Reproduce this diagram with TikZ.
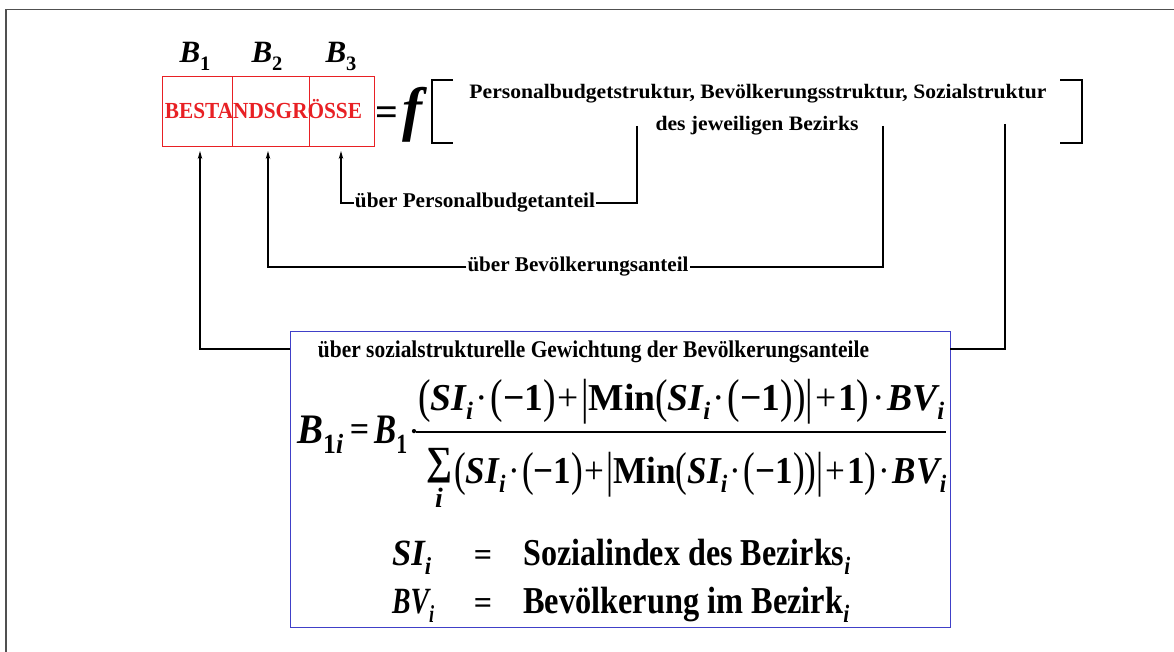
\documentclass[tikz,border=0pt]{standalone}
\usepackage{fontspec}
\setmainfont{Liberation Serif}
\usepackage{graphicx}
\usetikzlibrary{arrows.meta}
\definecolor{bred}{RGB}{232,32,36}
\definecolor{bblue}{RGB}{64,64,200}
\definecolor{frame}{RGB}{80,80,80}
\newcommand{\BI}[1]{{\bfseries\itshape #1}}
\newcommand{\sub}[1]{\raisebox{-0.25em}{\scalebox{0.66}{#1}}}
\newcommand{\bp}[1]{\raisebox{-0.065em}{\scalebox{1}[1.25]{\mdseries\upshape #1}}}
\newcommand{\bb}{\raisebox{-0.09em}{\scalebox{1}[1.3]{\mdseries|}}}
\newcommand{\cdt}{\hspace{0.07em}{\mdseries·}\hspace{0.07em}}
\newcommand{\pls}{\hspace{0.05em}{\mdseries+}\hspace{0.05em}}
\newcommand{\fs}[1]{\fontsize{#1}{#1}\selectfont}
\newcommand{\fitw}[2]{\resizebox{#1}{\height}{#2}}
\newcommand{\fracpart}{\bp{(}\BI{SI}\sub{\BI{i}}\cdt\bp{(}\textbf{−1}\bp{)}\pls\bb\textbf{Min}\bp{(}\BI{SI}\sub{\BI{i}}\cdt\bp{(}\textbf{−1}\bp{)}\bp{)}\bb\pls\textbf{1}\bp{)}\cdt\BI{BV}\sub{\BI{i}}}
\tikzset{
  lbl/.style={font=\bfseries\fs{21}, inner sep=1pt},
  txt/.style={inner sep=0pt, anchor=base},
  txtw/.style={inner sep=0pt, anchor=base west},
  conn/.style={line width=1.1pt, black},
  arr/.style={conn, -{Stealth[length=8pt,width=4.5pt]}},
  cell/.style={draw=bred, line width=1.3pt, minimum height=70pt, inner sep=0pt, anchor=north west},
  brk/.style={line width=2pt, black},
}
\begin{document}
\begin{tikzpicture}[x=1pt,y=-1pt]
\useasboundingbox (0,0) rectangle (1174,652);
\draw[frame, line width=1.6pt] (6,652) -- (6,9.5) -- (1174,9.5);

% red box
\node[cell, minimum width=70pt] (c1) at (162,76) {};
\node[cell, minimum width=77pt] (c2) at (232,76) {};
\node[cell, minimum width=65pt] (c3) at (309,76) {};
\node[txt, font=\bfseries\fs{23}, text=bred] (best) at (263.5,119) {\fitw{197pt}{BESTANDSGRÖSSE}};

\node[txt, font=\fs{31}] (b1) at (195,63) {\BI{B}\sub{\textbf{1}}};
\node[txt, font=\fs{31}] (b2) at (267,63) {\BI{B}\sub{\textbf{2}}};
\node[txt, font=\fs{31}] (b3) at (341,63) {\BI{B}\sub{\textbf{3}}};

\node[txt, font=\bfseries\fs{40}] (eq) at (387,126) {=};
\node[txt, font=\bfseries\itshape\fs{60}] (f) at (412,130) {f};

% brackets
\coordinate (lb1) at (453,80); \coordinate (lb2) at (453,143);
\draw[brk] (lb1) -- (432,80) -- (432,143) -- (lb2);
\coordinate (rb1) at (1060,80); \coordinate (rb2) at (1060,143);
\draw[brk] (rb1) -- (1082,80) -- (1082,143) -- (rb2);

\node[txt, font=\bfseries\fs{20.5}] (s1) at (758,99) {\fitw{577pt}{Personalbudgetstruktur, Bevölkerungsstruktur, Sozialstruktur}};
\node[txt, font=\bfseries\fs{20.5}] (s2) at (757,131) {\fitw{203pt}{des jeweiligen Bezirks}};

% connectors
\coordinate (p1) at (637,126);
\coordinate (p2) at (883,126);
\coordinate (p3) at (1005,124);
\coordinate (t1) at (200,151);
\coordinate (t2) at (268,151);
\coordinate (t3) at (341,151);

\node[lbl] (l1) at (475,203) {\fitw{240pt}{über Personalbudgetanteil}};
\node[lbl] (l2) at (578,267) {\fitw{221pt}{über Bevölkerungsanteil}};

\draw[conn] (p1) |- (l1.east);
\draw[arr] (l1.west) -| (t3);
\draw[conn] (p2) |- (l2.east);
\draw[arr] (l2.west) -| (t2);

% blue box
\node[draw=bblue, line width=1.3pt, minimum width=660pt, minimum height=296pt, anchor=north west, inner sep=0pt] (blue) at (290,331) {};
\coordinate (q3) at (950,349);
\coordinate (q1) at (290,349);
\draw[conn] (p3) |- (q3);
\draw[arr] (q1) -| (t1);

\node[txt, font=\bfseries\fs{24}] (head) at (593.5,357) {\fitw{551pt}{über sozialstrukturelle Gewichtung der Bevölkerungsanteile}};

% formula
\node[txtw, font=\fs{42}] (lhsa) at (297,443) {\fitw{46pt}{\BI{B}\sub{\textbf{1}\BI{i}}}};
\node[txt, font=\bfseries\fs{34}] (lhsb) at (359.5,440) {=};
\node[txtw, font=\fs{42}] (lhsc) at (374,443) {\fitw{33pt}{\BI{B}\sub{\textbf{1}}}};
\node[txt, font=\fs{36}] (lhsd) at (414,443) {·};
\node[txtw, font=\fs{38}] (num) at (418,410) {\fitw{526pt}{\fracpart}};
\coordinate (fr1) at (416,432); \coordinate (fr2) at (946,432);
\draw[line width=1.2pt] (fr1) -- (fr2);
\node[font=\bfseries\fs{40}, inner sep=0pt] (sum) at (439.5,466) {\fitw{26pt}{∑}};
\node[txt, font=\fs{28}] (si) at (439,507) {\BI{i}};
\node[txtw, font=\fs{38}] (den) at (454,483) {\fitw{492pt}{\fracpart}};

% definitions
\node[txtw, font=\fs{37}] (d1a) at (392,565) {\fitw{39pt}{\BI{SI}\sub{\BI{i}}}};
\node[txt, font=\bfseries\fs{32}] (d1b) at (483,565) {=};
\node[txtw, font=\bfseries\fs{38}] (d1c) at (523,565) {\fitw{327pt}{Sozialindex des Bezirks\sub{\BI{i}}}};
\node[txtw, font=\fs{37}] (d2a) at (392,613) {\fitw{42pt}{\BI{BV}\sub{\BI{i}}}};
\node[txt, font=\bfseries\fs{32}] (d2b) at (483,613) {=};
\node[txtw, font=\bfseries\fs{38}] (d2c) at (523,613) {\fitw{326pt}{Bevölkerung im Bezirk\sub{\BI{i}}}};
\end{tikzpicture}
\end{document}
